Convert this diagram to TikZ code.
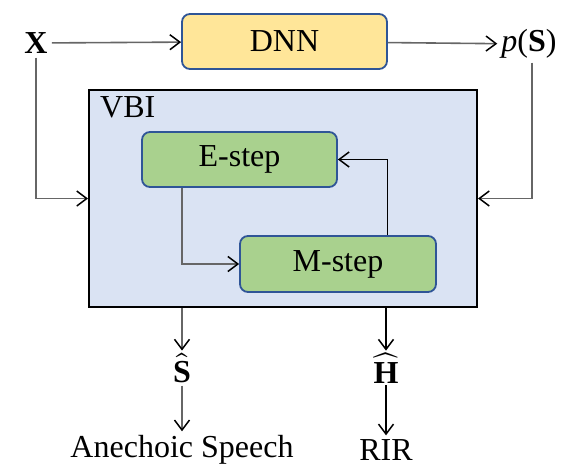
\documentclass[tikz,border=0pt]{standalone}
\usepackage{unicode-math}
\setmainfont{Liberation Serif}
\setmathfont{Latin Modern Math}
\usetikzlibrary{arrows.meta}
\definecolor{dnnfill}{HTML}{FFE699}
\definecolor{stepfill}{HTML}{A9D18E}
\definecolor{vbifill}{HTML}{DAE3F3}
\definecolor{boxline}{HTML}{2F5597}

\tikzset{
    dnnbox/.style={draw=boxline, fill=dnnfill, line width=1.8pt, rounded corners=8pt,
        minimum width=205pt, minimum height=55pt},
    stepbox/.style={draw=boxline, fill=stepfill, line width=1.8pt, rounded corners=8pt,
        minimum width=195pt, minimum height=55pt},
    vbibox/.style={draw=black, fill=vbifill, line width=2pt,
        minimum width=388pt, minimum height=217pt},
    lbl/.style={inner sep=4pt},
    arr/.style={draw=black!60, line width=1.6pt,
        -{Straight Barb[black, length=10pt, width=15pt, line width=1.5pt]}},
}

\begin{document}
\begin{tikzpicture}[x=1pt, y=-1pt, font=\fontsize{32}{38}\selectfont]
    \useasboundingbox (0,0) rectangle (569,474);

    % DNN branch
    \node[dnnbox] (dnn) at (284.5,41.5) {DNN};
    \node[lbl] (x) at (36,43) {\textbf{X}};
    \node[lbl] (ps) at (529,44) {\textit{p}(\textbf{S})};

    % VBI with its two steps
    \node[vbibox] (vbi) at (283,198.5) {};
    \node[anchor=north west, inner sep=0pt] (vbitext) at (100,96) {VBI};
    \node[stepbox] (estep) at (239.5,159.5) {E-step};
    \node[stepbox, minimum width=196pt, minimum height=56pt] (mstep) at (338,264) {M-step};

    % outputs
    \node[lbl, inner sep=2pt] (shat) at (182,368) {$\hat{\mbox{\textbf{S}}}$};
    \node[lbl, inner sep=2pt] (hhat) at (386,368) {$\widehat{\mbox{\textbf{H}}}$};
    \node[lbl] (speech) at (182,450) {Anechoic Speech};
    \node[lbl] (rir) at (386,450) {RIR};

    % connectors
    \draw[arr] (x) -- (dnn);
    \draw[arr] (dnn) -- (ps);
    \draw[arr] (x.south) |- (vbi.west);
    \draw[arr] ([xshift=3pt]ps.south) |- (vbi.east);
    \draw[arr, line width=1.3pt] ([xshift=-57.5pt]estep.south) |- (mstep.west);
    \draw[arr, draw=black, line width=1pt] ([xshift=49pt]mstep.north) |- (estep.east);
    \draw[arr] (vbi.south -| shat) -- (shat);
    \draw[arr, draw=black, line width=1.3pt] (vbi.south -| hhat) -- (hhat);
    \draw[arr] (shat) -- (speech);
    \draw[arr, draw=black, line width=1.3pt] (hhat) -- (rir);
\end{tikzpicture}
\end{document}
